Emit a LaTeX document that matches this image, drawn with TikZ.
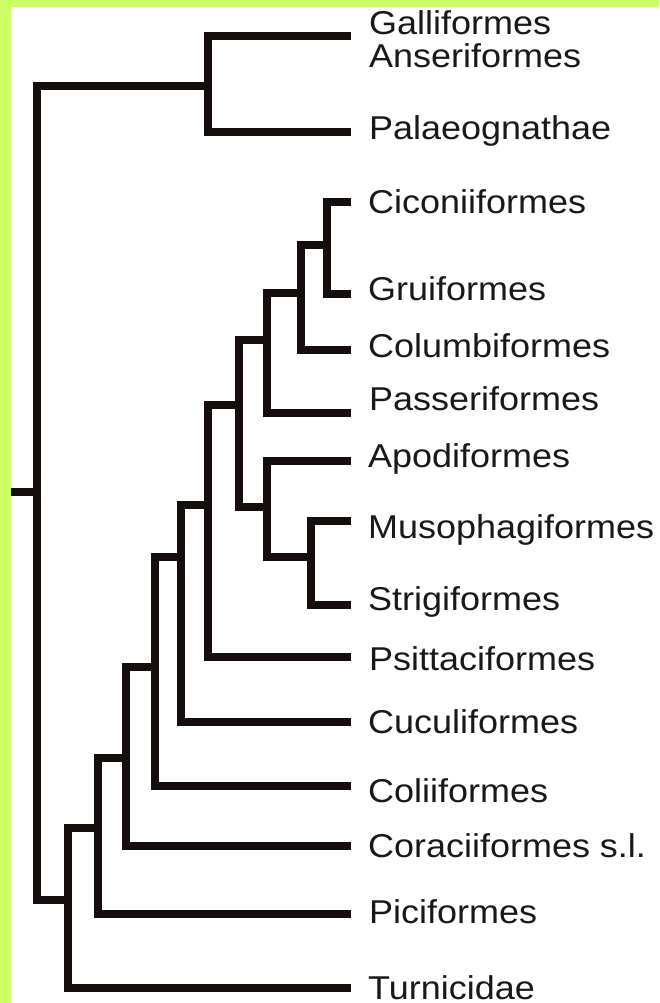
\documentclass[tikz,border=0pt]{standalone}
\usepackage{fontspec}
\setmainfont{Liberation Sans}[FakeStretch=1.09]
\definecolor{bordergreen}{RGB}{204,255,102}
\definecolor{inkline}{RGB}{22,14,12}
\begin{document}
\begin{tikzpicture}[x=1pt,y=-1pt,
  branch/.style={line width=7.5pt, line join=miter, line cap=butt, draw=inkline},
  taxon/.style={anchor=base west, inner sep=0pt, text=black!90, font=\fontsize{33}{27}\selectfont}]
\fill[white] (0,0) rectangle (659,1003);
\useasboundingbox (0,0) rectangle (659,1003);
\fill[bordergreen] (0,0) rectangle (659,7);
\fill[bordergreen] (0,0) rectangle (11,1003);

% internal nodes
\coordinate (stub) at (11,492);
\coordinate (nR) at (37,492);
\coordinate (nT) at (208,86);
\coordinate (nL) at (68,900);
\coordinate (nK) at (98,828);
\coordinate (nJ) at (126,758);
\coordinate (nI) at (155,667);
\coordinate (nH) at (181,557);
\coordinate (nG) at (208,505);
\coordinate (nD) at (239,405);
\coordinate (nC) at (267,340);
\coordinate (nB) at (301,293);
\coordinate (nA) at (327,245);
\coordinate (nE) at (267,507);
\coordinate (nF) at (311,557);

% leaf ends
\coordinate (lGA) at (351,36);
\coordinate (lPal) at (351,132);
\coordinate (lCic) at (351,202);
\coordinate (lGru) at (351,294);
\coordinate (lCol) at (351,350);
\coordinate (lPas) at (351,413);
\coordinate (lApo) at (351,461);
\coordinate (lMus) at (351,521);
\coordinate (lStr) at (351,605);
\coordinate (lPsi) at (351,657);
\coordinate (lCuc) at (351,722);
\coordinate (lColi) at (351,786);
\coordinate (lCor) at (351,846);
\coordinate (lPic) at (351,914);
\coordinate (lTur) at (351,988);

% labels
\node[taxon] (gallanser) at (369,35) {\begin{tabular}[t]{@{}l@{}}Galliformes\\Anseriformes\end{tabular}};
\node[taxon] (pal) at (369,140) {Palaeognathae};
\node[taxon] (cic) at (368,213) {Ciconiiformes};
\node[taxon] (gru) at (368,300) {Gruiformes};
\node[taxon] (col) at (368,357) {Columbiformes};
\node[taxon] (pas) at (369,410) {Passeriformes};
\node[taxon] (apo) at (368,467) {Apodiformes};
\node[taxon] (mus) at (368,538) {Musophagiformes};
\node[taxon] (str) at (368,610) {Strigiformes};
\node[taxon] (psi) at (369,670) {Psittaciformes};
\node[taxon] (cuc) at (368,733) {Cuculiformes};
\node[taxon] (coli) at (368,802) {Coliiformes};
\node[taxon] (cor) at (368,857) {Coraciiformes s.l.};
\node[taxon] (pic) at (369,923) {Piciformes};
\node[taxon] (tur) at (368,999) {Turnicidae};

% branches
\draw[branch] (stub) -- (nR);
\draw[branch] (nT) -| (nR) |- (nL);
\draw[branch] (lGA) -| (nT) |- (lPal);
\draw[branch] (nK) -| (nL) |- (lTur);
\draw[branch] (nJ) -| (nK) |- (lPic);
\draw[branch] (nI) -| (nJ) |- (lCor);
\draw[branch] (nH) -| (nI) |- (lColi);
\draw[branch] (nG) -| (nH) |- (lCuc);
\draw[branch] (nD) -| (nG) |- (lPsi);
\draw[branch] (nC) -| (nD) |- (nE);
\draw[branch] (nB) -| (nC) |- (lPas);
\draw[branch] (nA) -| (nB) |- (lCol);
\draw[branch] (lCic) -| (nA) |- (lGru);
\draw[branch] (lApo) -| (nE) |- (nF);
\draw[branch] (lMus) -| (nF) |- (lStr);
\end{tikzpicture}
\end{document}
